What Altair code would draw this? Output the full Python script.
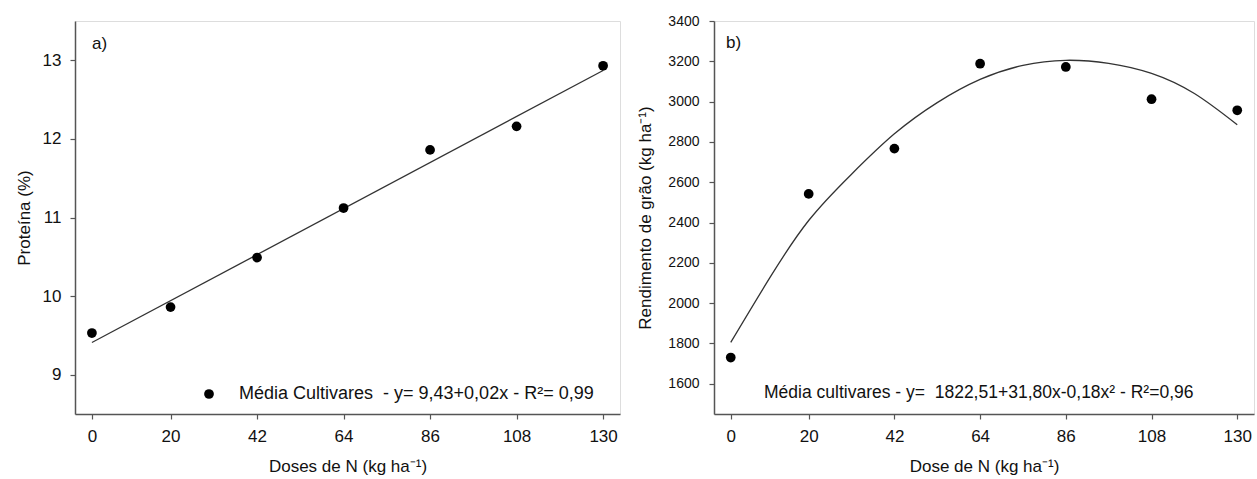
import altair as alt
import pandas as pd

# ---------------- data ----------------
doses = [0, 20, 42, 64, 86, 108, 130]
proteina = [9.53, 9.86, 10.49, 11.12, 11.86, 12.16, 12.93]
rendimento = [1730, 2542, 2767, 3188, 3172, 3012, 2957]

fit_a_x = [0, 130]
fit_a_y = [9.41, 12.87]

fit_b_x = [0, 10, 20, 31, 42, 53, 64, 75, 86, 97, 108, 119, 130]
fit_b_y = [1805, 2125, 2410, 2640, 2840, 2995, 3110, 3180, 3205, 3190, 3140, 3040, 2885]

x_ticks = [0, 20, 42, 64, 86, 108, 130]
ya_ticks = [9, 10, 11, 12, 13]
yb_ticks = [1600, 1800, 2000, 2200, 2400, 2600, 2800, 3000, 3200, 3400]

label_a = ["a)"]
label_b = ["b)"]
legend_a = ["Média Cultivares \u00a0- y= 9,43+0,02x - R²= 0,99"]
legend_b = ["Média cultivares - y= \u00a01822,51+31,80x-0,18x² - R²=0,96"]
xtitle_a = "Doses de N (kg ha⁻¹)"
xtitle_b = "Dose de N (kg ha⁻¹)"
ytitle_a = "Proteína (%)"
ytitle_b = "Rendimento de grão (kg ha⁻¹)"

FONT = "Liberation Sans"
AX = "#555555"
TXT = "#111111"

pts_a = pd.DataFrame({"x": doses, "y": proteina})
pts_b = pd.DataFrame({"x": doses, "y": rendimento})
line_a = pd.DataFrame({"x": fit_a_x, "y": fit_a_y})
line_b = pd.DataFrame({"x": fit_b_x, "y": fit_b_y})

xscale = alt.Scale(domain=[-4.3, 134.3], nice=False, zero=False)


def xaxis(title):
    return alt.Axis(values=x_ticks, title=title, format="d", grid=False, domainColor=AX, tickColor=AX,
                    domainWidth=1.5, tickWidth=1.2, tickSize=5,
                    labelFont=FONT, labelFontSize=17, labelColor=TXT, labelPadding=9,
                    titleFont=FONT, titleFontSize=17, titleFontWeight="normal",
                    titleColor=TXT, titlePadding=14)


def yaxis(title, vals, lsize, lpad, tpad):
    return alt.Axis(values=vals, title=title, format="d", grid=False, domainColor=AX, tickColor=AX,
                    domainWidth=1.5, tickWidth=1.2, tickSize=5,
                    labelFont=FONT, labelFontSize=lsize, labelColor=TXT, labelPadding=lpad,
                    titleFont=FONT, titleFontSize=17, titleFontWeight="normal",
                    titleColor=TXT, titlePadding=tpad)


W_A, W_B, H = 545, 540, 393

# ---------------- panel a ----------------
ya_scale = alt.Scale(domain=[8.5, 13.5], nice=False, zero=False)
a_line = alt.Chart(line_a).mark_line(color="#333333", strokeWidth=1.3).encode(
    x=alt.X("x:Q", scale=xscale, axis=xaxis(xtitle_a)),
    y=alt.Y("y:Q", scale=ya_scale, axis=yaxis(ytitle_a, ya_ticks, 17, 9, 9)),
)
a_pts = alt.Chart(pts_a).mark_circle(size=95, color="black", opacity=1).encode(
    x=alt.X("x:Q", scale=xscale), y=alt.Y("y:Q", scale=ya_scale)
)
a_lab = alt.Chart(pd.DataFrame({"t": label_a})).mark_text(
    font=FONT, fontSize=17, color=TXT, align="left", baseline="middle"
).encode(text="t:N", x=alt.value(17), y=alt.value(23))
a_leg_dot = alt.Chart(pd.DataFrame({"t": label_a})).mark_circle(size=95, color="black", opacity=1).encode(
    x=alt.value(134), y=alt.value(373)
)
a_leg = alt.Chart(pd.DataFrame({"t": legend_a})).mark_text(
    font=FONT, fontSize=18, color=TXT, align="left", baseline="middle"
).encode(text="t:N", x=alt.value(164), y=alt.value(373))
panel_a = alt.layer(a_line, a_pts, a_lab, a_leg_dot, a_leg).properties(width=W_A, height=H)

# ---------------- panel b ----------------
yb_scale = alt.Scale(domain=[1450, 3400], nice=False, zero=False)
b_line = alt.Chart(line_b).mark_line(color="#333333", strokeWidth=1.3, interpolate="natural").encode(
    x=alt.X("x:Q", scale=xscale, axis=xaxis(xtitle_b)),
    y=alt.Y("y:Q", scale=yb_scale, axis=yaxis(ytitle_b, yb_ticks, 14, 10, 13)),
)
b_pts = alt.Chart(pts_b).mark_circle(size=95, color="black", opacity=1).encode(
    x=alt.X("x:Q", scale=xscale), y=alt.Y("y:Q", scale=yb_scale)
)
b_lab = alt.Chart(pd.DataFrame({"t": label_b})).mark_text(
    font=FONT, fontSize=17, color=TXT, align="left", baseline="middle"
).encode(text="t:N", x=alt.value(12), y=alt.value(22))
b_leg = alt.Chart(pd.DataFrame({"t": legend_b})).mark_text(
    font=FONT, fontSize=17.5, color=TXT, align="left", baseline="middle"
).encode(text="t:N", x=alt.value(50), y=alt.value(372))
panel_b = alt.layer(b_line, b_pts, b_lab, b_leg).properties(width=W_B, height=H)

chart = alt.hconcat(panel_a, panel_b, spacing=15).properties(
    padding={"left": 14, "top": 13, "right": 0, "bottom": 0}
).configure_view(stroke=None).configure(background="white")

chart.save("out.html", embed_options={"renderer": "svg", "actions": False})
